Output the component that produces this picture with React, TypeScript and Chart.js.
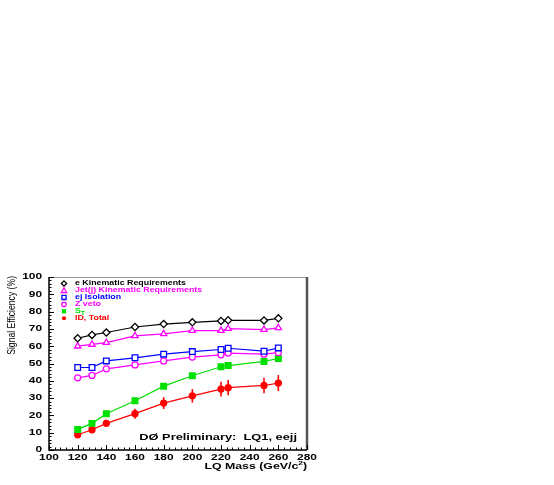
import React, { useEffect, useRef } from "react";
import { Chart, registerables } from "chart.js";

Chart.register(...registerables);

// ---- data ----
const masses = [120, 130, 140, 160, 180, 200, 220, 225, 250, 260];
const eKin = [64.6, 66.5, 67.9, 71.1, 72.8, 73.8, 74.6, 75.0, 74.9, 76.1];
const jetKin = [60.0, 61.0, 62.1, 66.0, 67.1, 69.0, 69.0, 70.2, 69.6, 70.6];
const ejIso = [47.7, 47.7, 51.5, 53.3, 55.4, 56.9, 58.1, 58.8, 57.1, 59.0];
const zVeto = [41.7, 43.1, 46.9, 49.2, 51.5, 53.7, 55.0, 56.0, 55.4, 56.3];
const sT = [11.9, 15.4, 21.0, 28.5, 36.9, 42.9, 48.1, 48.8, 51.2, 52.9];
const idTotal = [8.8, 11.7, 15.4, 21.0, 27.1, 31.3, 35.2, 36.0, 37.3, 38.7];
const idTotalErr = [0.8, 1.3, 2.1, 2.9, 3.4, 3.9, 4.3, 4.4, 4.5, 4.6];

const seriesLabels = [
  "e Kinematic Requirements",
  "Jet(j) Kinematic Requirements",
  "ej Isolation",
  "Z veto",
  "S",
  "ID, Total",
];
const seriesSubscripts = ["", "", "", "", "T", ""];
const seriesColors = ["#000000", "#ff00ff", "#0000ff", "#ff00ff", "#00e000", "#ff0000"];
const seriesMarkers = ["diamond", "triangle", "square", "circle", "fsquare", "fcircle"];

const xMin = 100, xMax = 280, xStep = 20, xMinor = 4;
const yMin = 0, yMax = 100, yStep = 10, yMinor = 2;

const yAxisTitle = "Signal Efficiency (%)";
const xAxisTitleMain = "LQ Mass (GeV/c";
const xAxisTitleSup = "2";
const xAxisTitleEnd = ")";
const annotationText = "DØ Preliminary:  LQ1, eejj";

const FONT = '"Liberation Sans", Arial, sans-serif';

function stretchedText(
  ctx: CanvasRenderingContext2D,
  text: string,
  x: number,
  y: number,
  font: string,
  sx: number,
  align: "left" | "right" | "center",
  color: string
) {
  ctx.save();
  ctx.font = font;
  ctx.fillStyle = color;
  ctx.textBaseline = "middle";
  ctx.textAlign = "left";
  const w = ctx.measureText(text).width * sx;
  const left = align === "left" ? x : align === "right" ? x - w : x - w / 2;
  ctx.translate(left, y);
  ctx.scale(sx, 1);
  ctx.fillText(text, 0, 0);
  ctx.restore();
  return w;
}

function measure(ctx: CanvasRenderingContext2D, text: string, font: string, sx: number) {
  ctx.save();
  ctx.font = font;
  const w = ctx.measureText(text).width * sx;
  ctx.restore();
  return w;
}

function drawMarker(ctx: CanvasRenderingContext2D, kind: string, x: number, y: number, r: number, color: string) {
  ctx.save();
  ctx.strokeStyle = color;
  ctx.fillStyle = color;
  ctx.lineWidth = 1.3;
  ctx.beginPath();
  if (kind === "diamond") {
    ctx.moveTo(x, y - r); ctx.lineTo(x + r, y); ctx.lineTo(x, y + r); ctx.lineTo(x - r, y); ctx.closePath();
    ctx.stroke();
  } else if (kind === "triangle") {
    ctx.moveTo(x, y - r); ctx.lineTo(x + r, y + r * 0.8); ctx.lineTo(x - r, y + r * 0.8); ctx.closePath();
    ctx.stroke();
  } else if (kind === "square") {
    ctx.rect(x - r * 0.8, y - r * 0.8, r * 1.6, r * 1.6);
    ctx.stroke();
  } else if (kind === "circle") {
    ctx.arc(x, y, r * 0.85, 0, Math.PI * 2);
    ctx.stroke();
  } else if (kind === "fsquare") {
    ctx.rect(x - r * 0.8, y - r * 0.8, r * 1.6, r * 1.6);
    ctx.fill();
  } else {
    ctx.arc(x, y, r * 0.8, 0, Math.PI * 2);
    ctx.fill();
  }
  ctx.restore();
}

const decorPlugin = {
  id: "decor",
  beforeDatasetsDraw(chart: any) {
    const ctx = chart.ctx as CanvasRenderingContext2D;
    const xs = chart.scales.x;
    const ys = chart.scales.y;
    ctx.save();
    ctx.strokeStyle = "#ff0000";
    ctx.lineWidth = 1.6;
    masses.forEach((m, i) => {
      const px = xs.getPixelForValue(m);
      ctx.beginPath();
      ctx.moveTo(px, ys.getPixelForValue(idTotal[i] - idTotalErr[i]));
      ctx.lineTo(px, ys.getPixelForValue(idTotal[i] + idTotalErr[i]));
      ctx.stroke();
    });
    ctx.restore();
  },
  afterDraw(chart: any) {
    const ctx = chart.ctx as CanvasRenderingContext2D;
    const xs = chart.scales.x;
    const ys = chart.scales.y;
    const { left, right, top, bottom } = chart.chartArea;

    // frame
    ctx.save();
    ctx.strokeStyle = "#999999";
    ctx.lineWidth = 1;
    ctx.beginPath();
    ctx.moveTo(left, top + 0.5);
    ctx.lineTo(right, top + 0.5);
    ctx.stroke();
    ctx.strokeStyle = "#555555";
    ctx.lineWidth = 2.5;
    ctx.beginPath();
    ctx.moveTo(right, top);
    ctx.lineTo(right, bottom);
    ctx.stroke();
    ctx.strokeStyle = "#000000";
    ctx.lineWidth = 1.5;
    ctx.beginPath();
    ctx.moveTo(left, top);
    ctx.lineTo(left, bottom);
    ctx.lineTo(right, bottom);
    ctx.stroke();

    // ticks (inward)
    ctx.lineWidth = 1;
    for (let v = yMin; v <= yMax + 1e-9; v += yMinor) {
      const py = Math.round(ys.getPixelForValue(v)) + 0.5;
      const major = Math.abs(v / yStep - Math.round(v / yStep)) < 1e-6;
      ctx.beginPath();
      ctx.moveTo(left, py);
      ctx.lineTo(left + (major ? 5 : 2.5), py);
      ctx.stroke();
    }
    for (let v = xMin; v <= xMax + 1e-9; v += xMinor) {
      const px = Math.round(xs.getPixelForValue(v)) + 0.5;
      const major = Math.abs(v / xStep - Math.round(v / xStep)) < 1e-6;
      ctx.beginPath();
      ctx.moveTo(px, bottom);
      ctx.lineTo(px, bottom - (major ? 5 : 2.5));
      ctx.stroke();
    }
    ctx.restore();

    // tick labels
    const tickFont = `bold 8.5px ${FONT}`;
    ys.ticks.forEach((t: any) => {
      stretchedText(ctx, String(t.value), left - 7, ys.getPixelForValue(t.value), tickFont, 1.4, "right", "#000");
    });
    xs.ticks.forEach((t: any) => {
      stretchedText(ctx, String(t.value), xs.getPixelForValue(t.value), bottom + 8, tickFont, 1.4, "center", "#000");
    });

    // x title
    const xtFont = `bold 8.8px ${FONT}`;
    const supFont = `bold 6px ${FONT}`;
    const w1 = measure(ctx, xAxisTitleMain, xtFont, 1.4);
    const w2 = measure(ctx, xAxisTitleSup, supFont, 1.4);
    const w3 = measure(ctx, xAxisTitleEnd, xtFont, 1.4);
    let xx = right - (w1 + w2 + w3);
    const ty = bottom + 16.5;
    stretchedText(ctx, xAxisTitleMain, xx, ty, xtFont, 1.4, "left", "#000");
    xx += w1;
    stretchedText(ctx, xAxisTitleSup, xx, ty - 3.5, supFont, 1.4, "left", "#000");
    xx += w2;
    stretchedText(ctx, xAxisTitleEnd, xx, ty, xtFont, 1.4, "left", "#000");

    // y title (rotated, condensed along text)
    ctx.save();
    ctx.translate(12.5, top - 1);
    ctx.rotate(-Math.PI / 2);
    ctx.scale(0.82, 1);
    ctx.font = `10.5px ${FONT}`;
    ctx.fillStyle = "#000";
    ctx.textAlign = "right";
    ctx.textBaseline = "middle";
    ctx.fillText(yAxisTitle, 0, 0);
    ctx.restore();

    // annotation
    stretchedText(ctx, annotationText, right - 10, ys.getPixelForValue(6.9), `bold 8.8px ${FONT}`, 1.46, "right", "#000");

    // legend
    const legFont = `bold 6.8px ${FONT}`;
    const subFont = `bold 5px ${FONT}`;
    seriesLabels.forEach((lab, i) => {
      const ry = top + 6.5 + i * 6.95;
      drawMarker(ctx, seriesMarkers[i], left + 15, ry, 2.6, seriesColors[i]);
      const w = stretchedText(ctx, lab, left + 26, ry, legFont, 1.3, "left", seriesColors[i]);
      if (seriesSubscripts[i]) {
        stretchedText(ctx, seriesSubscripts[i], left + 26 + w, ry + 2, subFont, 1.3, "left", seriesColors[i]);
      }
    });
  },
};

export default function App() {
  const ref = useRef<HTMLCanvasElement | null>(null);

  useEffect(() => {
    if (!ref.current) return;
    const mk = (d: number[]) => masses.map((m, i) => ({ x: m, y: d[i] }));
    const style = (color: string, pointStyle: string, radius: number, filled: boolean) => ({
      borderColor: color,
      backgroundColor: color,
      borderWidth: 1.2,
      pointStyle,
      pointRadius: radius,
      pointBorderColor: color,
      pointBackgroundColor: filled ? color : "#ffffff",
      pointBorderWidth: 1.3,
      fill: false,
      tension: 0,
    });
    const chart = new Chart(ref.current, {
      type: "line",
      data: {
        datasets: [
          { label: seriesLabels[0], data: mk(eKin), ...style(seriesColors[0], "rectRot", 3.6, false) },
          { label: seriesLabels[1], data: mk(jetKin), ...style(seriesColors[1], "triangle", 3.6, false) },
          { label: seriesLabels[2], data: mk(ejIso), ...style(seriesColors[2], "rect", 4.0, false) },
          { label: seriesLabels[3], data: mk(zVeto), ...style(seriesColors[3], "circle", 3.0, false) },
          { label: seriesLabels[4], data: mk(sT), ...style(seriesColors[4], "rect", 4.0, true) },
          { label: seriesLabels[5], data: mk(idTotal), ...style(seriesColors[5], "circle", 3.0, true) },
        ] as any,
      },
      options: {
        responsive: false,
        animation: false,
        layout: { padding: { left: 0, top: 277, right: 554 - 307, bottom: 0 } },
        plugins: { legend: { display: false }, tooltip: { enabled: false } },
        scales: {
          x: {
            type: "linear",
            min: xMin,
            max: xMax,
            ticks: { stepSize: xStep, display: false },
            grid: { display: false },
            border: { display: false },
            afterFit: (s: any) => { s.height = 35; },
          },
          y: {
            type: "linear",
            min: yMin,
            max: yMax,
            ticks: { stepSize: yStep, display: false },
            grid: { display: false },
            border: { display: false },
            afterFit: (s: any) => { s.width = 49; },
          },
        },
      } as any,
      plugins: [decorPlugin],
    });
    return () => chart.destroy();
  }, []);

  return (
    <div style={{ position: "absolute", left: 0, top: 0, width: 554, height: 485, background: "#fff" }}>
      <canvas ref={ref} width={554} height={485} style={{ display: "block" }} />
    </div>
  );
}
